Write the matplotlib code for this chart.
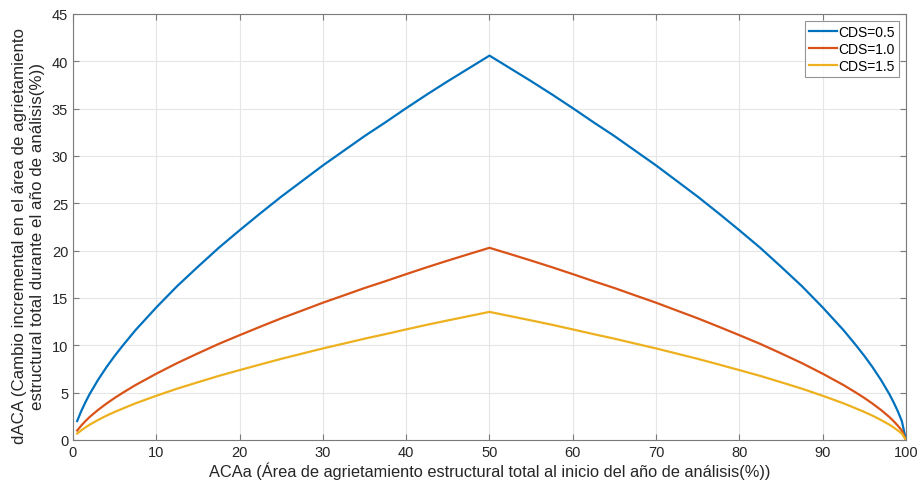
import numpy as np
import matplotlib
matplotlib.use('Agg')
import matplotlib.pyplot as plt

# ACAa values (%)
aca = [0.5, 1, 1.5, 2, 3, 4, 5, 6, 7.5, 10, 12.5, 15, 17.5, 20, 22.5, 25, 27.5, 30,
       32.5, 35, 37.5, 40, 42.5, 45, 47.5, 50,
       52.5, 55, 57.5, 60, 62.5, 65, 67.5, 70, 72.5, 75, 77.5, 80, 82.5, 85, 87.5, 90,
       92.5, 94, 95, 96, 97, 98, 98.5, 99, 99.5, 100]

# dACA for each CDS
d_cds05 = [2.0, 3.07, 4.0, 4.85, 6.34, 7.67, 8.88, 10.0, 11.6, 14.0, 16.25, 18.3, 20.3,
           22.15, 23.95, 25.7, 27.35, 29.0, 30.55, 32.1, 33.55, 35.05, 36.5, 37.9, 39.25, 40.6,
           39.25, 37.9, 36.5, 35.05, 33.55, 32.1, 30.55, 29.0, 27.35, 25.7, 23.95, 22.15, 20.3,
           18.3, 16.25, 14.0, 11.6, 10.0, 8.88, 7.67, 6.34, 4.85, 4.0, 3.07, 2.0, 0.0]
d_cds10 = [1.0, 1.53, 2.0, 2.43, 3.17, 3.83, 4.44, 5.0, 5.8, 7.0, 8.12, 9.15, 10.15,
           11.07, 11.97, 12.85, 13.67, 14.5, 15.27, 16.05, 16.77, 17.52, 18.25, 18.95, 19.63, 20.3,
           19.63, 18.95, 18.25, 17.52, 16.77, 16.05, 15.27, 14.5, 13.67, 12.85, 11.97, 11.07, 10.15,
           9.15, 8.12, 7.0, 5.8, 5.0, 4.44, 3.83, 3.17, 2.43, 2.0, 1.53, 1.0, 0.0]
d_cds15 = [0.68, 1.02, 1.33, 1.62, 2.11, 2.56, 2.96, 3.33, 3.87, 4.67, 5.42, 6.1, 6.77,
           7.38, 7.98, 8.57, 9.12, 9.67, 10.18, 10.7, 11.18, 11.68, 12.17, 12.63, 13.08, 13.53,
           13.08, 12.63, 12.17, 11.68, 11.18, 10.7, 10.18, 9.67, 9.12, 8.57, 7.98, 7.38, 6.77,
           6.1, 5.42, 4.67, 3.87, 3.33, 2.96, 2.56, 2.11, 1.62, 1.33, 1.02, 0.68, 0.0]

labels = ['CDS=0.5', 'CDS=1.0', 'CDS=1.5']
colors = ['#0072BD', '#D95319', '#EDB120']

plt.rcParams['font.family'] = ['Liberation Sans', 'DejaVu Sans']

fig = plt.figure(figsize=(9.17, 4.89), dpi=100)
ax = fig.add_axes([0.0796, 0.0982, 0.9084, 0.8712])

for d, lab, c in zip([d_cds05, d_cds10, d_cds15], labels, colors):
    ax.plot(aca, d, color=c, lw=1.6, label=lab)

ax.set_xlim(0, 100)
ax.set_ylim(0, 45)
ax.set_xticks(np.arange(0, 101, 10))
ax.set_yticks(np.arange(0, 46, 5))
ax.grid(True, color='#e6e6e6', lw=0.8)
ax.set_axisbelow(True)
for s in ax.spines.values():
    s.set_color('#7a7a7a')
    s.set_linewidth(0.8)
ax.tick_params(direction='in', length=4, width=0.8, color='#7a7a7a',
               labelcolor='#262626', labelsize=10.5, top=True, right=True)

ax.set_xlabel('ACAa (Área de agrietamiento estructural total al inicio del año de análisis(%))',
              fontsize=11.8, color='#262626', labelpad=2)
ax.set_ylabel('dACA (Cambio incremental en el área de agrietamiento\n'
              'estructural total durante el año de análisis(%))',
              fontsize=12.2, color='#262626', linespacing=1.2)
ax.yaxis.set_label_coords(-0.034, 0.48)

leg = ax.legend(loc='upper right', fontsize=10, frameon=True, fancybox=False,
                handlelength=2.0, handletextpad=0.1, borderpad=0.3, labelspacing=0.22,
                borderaxespad=0.5)
leg.get_frame().set_edgecolor('#7a7a7a')
leg.get_frame().set_linewidth(0.8)

fig.savefig('out.png', dpi=100)
